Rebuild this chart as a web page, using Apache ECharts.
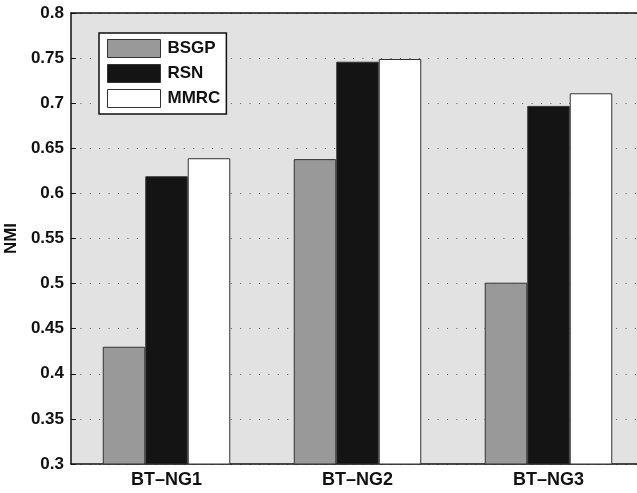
<!DOCTYPE html>
<html>
<head>
<meta charset="utf-8">
<script src="https://cdn.jsdelivr.net/npm/echarts@6/dist/echarts.min.js"></script>
<style>
  html, body { margin: 0; padding: 0; background: #fff; }
  #chart { width: 637px; height: 493px; }
</style>
</head>
<body>
<div id="chart"></div>
<script>
// 数据
var categories = ["BT–NG1", "BT–NG2", "BT–NG3"];
var bsgp = [0.43, 0.638, 0.501];
var rsn = [0.619, 0.746, 0.697];
var mmrc = [0.639, 0.749, 0.711];

var font = "Liberation Sans, Arial, sans-serif";

function bar(name, data, color) {
  return {
    name: name,
    type: "bar",
    data: data,
    barWidth: 42.5,
    barGap: "0%",
    itemStyle: { color: color, borderColor: "#333", borderWidth: 1 }
  };
}

var chart = echarts.init(document.getElementById("chart"));
chart.setOption({
  backgroundColor: "#fff",
  animation: false,
  grid: {
    left: 71, right: -7, top: 13, bottom: 29,
    containLabel: false,
    outerBoundsMode: "none",
    show: true, backgroundColor: "#e2e2e2", borderWidth: 0
  },
  legend: {
    orient: "vertical",
    left: 99, top: 33,
    padding: [6, 6, 6, 8],
    itemWidth: 53, itemHeight: 18, itemGap: 6,
    backgroundColor: "#fff",
    borderColor: "#111", borderWidth: 1.5,
    icon: "rect",
    selectedMode: false,
    itemStyle: { borderColor: "#333", borderWidth: 1 },
    textStyle: { fontFamily: font, fontWeight: "bold", fontSize: 17, color: "#111", padding: [0, 0, 0, 2] },
    data: ["BSGP", "RSN", "MMRC"]
  },
  xAxis: [
    {
      type: "category",
      data: categories,
      axisLine: { lineStyle: { color: "#111", width: 1.5 } },
      axisTick: { show: false },
      axisLabel: { fontFamily: font, fontWeight: "bold", fontSize: 18, color: "#111", margin: 7 }
    },
    {
      type: "category",
      position: "top",
      data: categories,
      axisLine: { show: true, lineStyle: { color: "#111", width: 1.5 } },
      axisTick: { show: false },
      axisLabel: { show: false }
    }
  ],
  yAxis: {
    type: "value",
    min: 0.3, max: 0.8, interval: 0.05,
    name: "NMI",
    nameLocation: "middle",
    nameGap: 50,
    nameTextStyle: { fontFamily: font, fontWeight: "bold", fontSize: 17, color: "#111" },
    axisLine: { show: true, lineStyle: { color: "#111", width: 1.5 } },
    axisTick: { show: true, inside: true, length: 5, lineStyle: { color: "#111" } },
    axisLabel: {
      fontFamily: font, fontWeight: "bold", fontSize: 17, color: "#111", margin: 7,
      formatter: function (v) { return String(+v.toFixed(2)); }
    },
    splitLine: { show: true, lineStyle: { color: "#555", width: 1, type: [1, 8.4] } }
  },
  series: [
    bar("BSGP", bsgp, "#999999"),
    bar("RSN", rsn, "#141414"),
    bar("MMRC", mmrc, "#ffffff")
  ]
});
</script>
</body>
</html>
